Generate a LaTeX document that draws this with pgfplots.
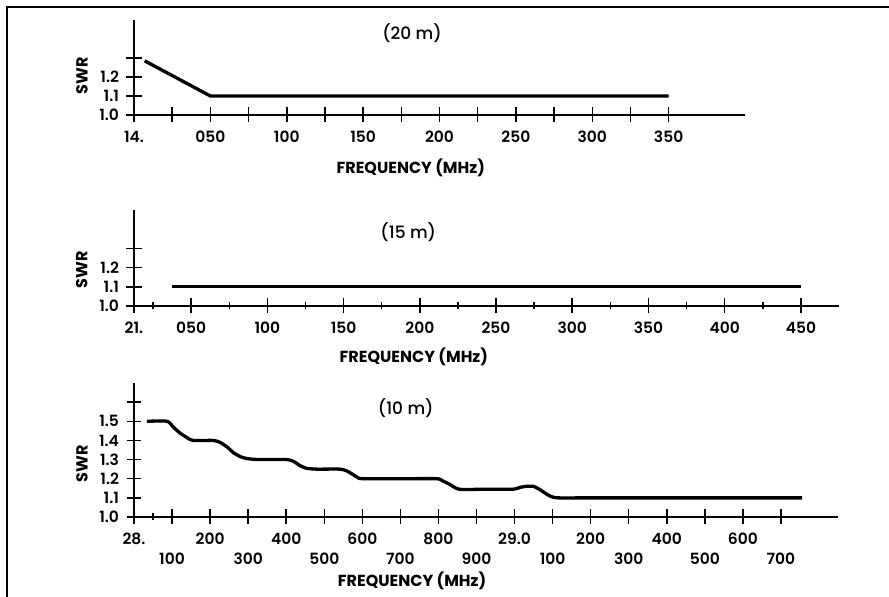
\documentclass[border=0pt]{standalone}
\usepackage{pgfplots}
\pgfplotsset{compat=1.18}
\usepackage{fontspec}
\setmainfont{Poppins}
\newfontfamily\medfont{Poppins Medium}
\newfontfamily\semifont{Poppins SemiBold}
\begin{document}
\begin{tikzpicture}
\useasboundingbox (0pt,0pt) rectangle (889pt,597pt);
\draw[line width=2pt] (7pt,0pt) -- (7pt,590pt) -- (889pt,590pt);
\pgfplotsset{
 swr/.style={
  scale only axis, anchor=south west,
  axis lines=left, axis line style={-, line width=1.5pt},
  tick align=center, major tick length=15pt, minor tick length=7pt,
  every tick/.style={black, line width=1.5pt},
  tick label style={font=\semifont\fontsize{15.5}{17}\selectfont},
  xticklabel style={yshift=-5pt},
  yticklabel style={xshift=-4pt},
  label style={font=\bfseries\fontsize{16}{18}\selectfont},
  title style={font=\medfont\fontsize{17}{19}\selectfont, anchor=center},
  xlabel={FREQUENCY (MHz)}, ylabel={SWR},
  xlabel style={anchor=center},
  ylabel style={anchor=center},
  clip=false,
 }
}
% ---------- 20 m ----------
\begin{axis}[swr, at={(134pt,482pt)}, width=611pt, height=95pt,
  xmin=0, xmax=400, ymin=1.0, ymax=1.5,
  xtick={0,25,...,350},
  xticklabels={14.,,050,,100,,150,,200,,250,,300,,350},
  ytick={1.0,1.1,1.2,1.3}, yticklabels={1.0,1.1,1.2,{}},
  title={(20 m)}, title style={at={(axis description cs:0.455,0.80)}},
  xlabel style={at={(axis description cs:0.453,-0.558)}},
  ylabel style={at={(axis description cs:-0.085,0.41)}},
]
\addplot[black, line width=3.3pt] coordinates {(7,1.285) (50,1.1) (350,1.1)};
\end{axis}
% ---------- 15 m ----------
\begin{axis}[swr, at={(134pt,291pt)}, width=705pt, height=96pt,
  xmin=12.5, xmax=475, ymin=1.0, ymax=1.5,
  xtick={12.5,50,100,150,200,250,300,350,400,450},
  xticklabels={21.,050,100,150,200,250,300,350,400,450},
  minor xtick={25,75,...,425},
  ytick={1.0,1.1,1.2,1.3}, yticklabels={1.0,1.1,1.2,{}},
  title={(15 m)}, title style={at={(axis description cs:0.389,0.708)}},
  xlabel style={at={(axis description cs:0.397,-0.531)}},
  ylabel style={at={(axis description cs:-0.074,0.375)}},
]
\addplot[black, line width=3.3pt] coordinates {(37.5,1.1) (450,1.1)};
\end{axis}
% ---------- 10 m ----------
\begin{axis}[swr, at={(134pt,80pt)}, width=704pt, height=134pt,
  xmin=0, xmax=1850, ymin=1.0, ymax=1.7,
  xtick={0,200,...,1600},
  xticklabels={28.,200,400,600,800,29.0,200,400,600},
  extra x ticks={100,300,...,1700},
  extra x tick labels={100,300,500,700,900,100,300,500,700},
  extra x tick style={xticklabel style={yshift=-20pt}},
  minor xtick={50},
  ytick={1.0,1.1,...,1.6}, yticklabels={1.0,1.1,1.2,1.3,1.4,1.5,{}},
  title={(10 m)}, title style={at={(axis description cs:0.386,0.769)}},
  xlabel style={at={(axis description cs:0.395,-0.478)}},
  ylabel style={at={(axis description cs:-0.074,0.396)}},
]
\addplot[black, line width=3.3pt, smooth, tension=0.4] coordinates {
(34,1.5) (87,1.5) (103,1.47) (120,1.44) (139,1.415) (155,1.40) (208,1.40)
(226,1.39) (245,1.365) (262,1.335) (280,1.315) (297,1.305) (330,1.30)
(400,1.30) (420,1.29) (435,1.27) (452,1.255) (480,1.25) (540,1.25)
(560,1.24) (585,1.21) (600,1.20) (700,1.20) (795,1.20) (810,1.19) (830,1.17)
(855,1.145) (920,1.145) (995,1.145) (1015,1.155) (1030,1.16) (1050,1.16) (1065,1.145)
(1080,1.125) (1095,1.108) (1115,1.10) (1200,1.10) (1500,1.10) (1756,1.10)};
\end{axis}
\end{tikzpicture}
\end{document}
